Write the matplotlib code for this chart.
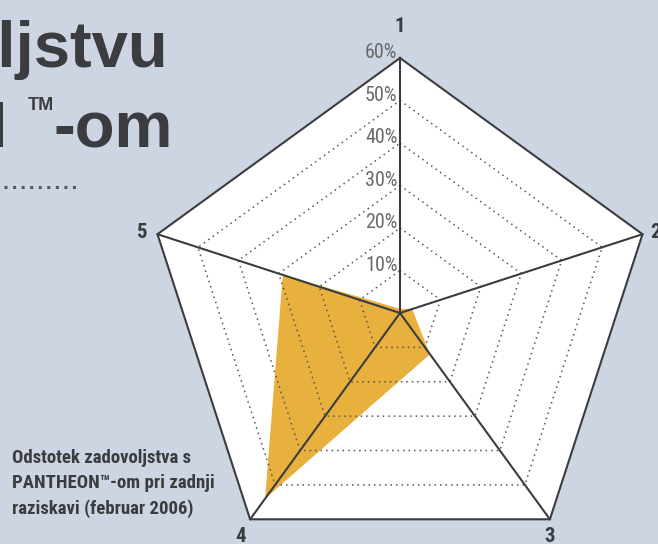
import numpy as np
import matplotlib.pyplot as plt

# data
axis_labels = ['1', '2', '3', '4', '5']
values = [1, 3, 12, 54, 29]          # % satisfaction per grade
ring_levels = [10, 20, 30, 40, 50, 60]
ring_labels = ['10%', '20%', '30%', '40%', '50%', '60%']
caption = 'Odstotek zadovoljstva s\nPANTHEON™-om pri zadnji\nraziskavi (februar 2006)'

bg = '#cdd4e2'
dark = '#3b3c3f'
gold = '#e8b03c'
narrow = ['Roboto Condensed', 'DejaVu Sans']

fig = plt.figure(figsize=(6.58, 5.44), dpi=100)
fig.patch.set_facecolor(bg)
ax = fig.add_axes([0, 0, 1, 1])
ax.set_facecolor(bg)
s = 255 / 60.0  # pixels per percent
ax.set_xlim(-400 / s, 258 / s)
ax.set_ylim(-(544 - 313) / s, 313 / s)
ax.axis('off')

n = len(axis_labels)
ang = np.pi / 2 - np.arange(n) * 2 * np.pi / n
ux, uy = np.cos(ang), np.sin(ang)

def ring(r):
    return np.append(r * ux, r * ux[0]), np.append(r * uy, r * uy[0])

# white plot area
ox, oy = ring(ring_levels[-1])
ax.fill(ox, oy, color='white', zorder=1)

# data polygon
v = np.array(values, dtype=float)
ax.fill(v * ux, v * uy, color=gold, lw=0, zorder=2)

# dotted rings
for r in ring_levels[:-1]:
    x, y = ring(r)
    ax.plot(x, y, color='#555555', lw=1.1, ls=(0, (1, 2.6)), zorder=3)
ax.plot(ox, oy, color=dark, lw=1.5, zorder=4)

# spokes
for i in range(n):
    ax.plot([0, 60 * ux[i]], [0, 60 * uy[i]], color=dark, lw=1.5, zorder=4)

# ring labels on axis 1
for r, lab in zip(ring_levels, ring_labels):
    ax.text(-0.6, r + 1.2, lab, ha='right', va='center', fontsize=14.5,
            color='#6a6a6a', family=narrow, zorder=5)

# axis numbers, placed just outside each corner
offsets = [(0, 7.5), (3.0, 0.3), (0, -4.0), (-2.3, -4.0), (-3.8, 0.3)]
for i, lab in enumerate(axis_labels):
    dx, dy = offsets[i]
    ax.text(60 * ux[i] + dx, 60 * uy[i] + dy, lab, ha='center', va='center',
            fontsize=15, fontweight='bold', color=dark, family=narrow, zorder=5)

# caption
fig.text(12 / 658, 1 - 449 / 544, caption, ha='left', va='top', fontsize=13.5,
         fontweight='bold', color=dark, family=narrow, linespacing=1.5)

# title fragments (cut at the left edge)
fig.text(168 / 658, 1 - 67 / 544, 'zadovoljstvu', ha='right', va='baseline',
         fontsize=47, fontweight='bold', color=dark, family='Liberation Sans')
fig.text(8 / 658, 1 - 148 / 544, 'PANTHEON', ha='right', va='baseline',
         fontsize=47, fontweight='bold', color=dark, family='Liberation Sans')
fig.text(40.5 / 658, 1 - 97 / 544, 'TM', ha='center', va='top',
         fontsize=13, fontweight='bold', color=dark, family='Liberation Sans')
fig.text(173 / 658, 1 - 148 / 544, '-om', ha='right', va='baseline',
         fontsize=47, fontweight='bold', color=dark, family='Liberation Sans')
fig.add_artist(plt.Line2D([4 / 658, 80 / 658], [1 - 186.5 / 544] * 2,
                          color='#555a66', lw=2.2, ls=(0, (1, 1.8)),
                          transform=fig.transFigure))

fig.savefig('out.png', dpi=100, facecolor=bg)
